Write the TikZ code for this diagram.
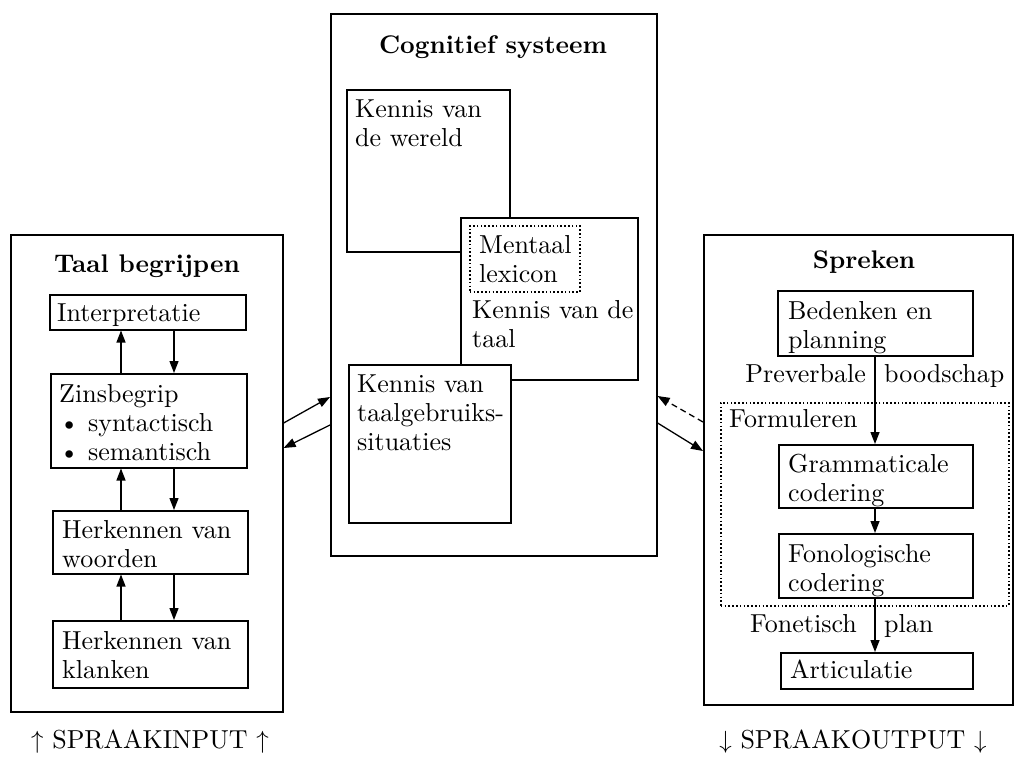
\documentclass[tikz,border=0pt]{standalone}
\usepackage{fontspec}
\setmainfont{lmroman10-regular}[Extension=.otf, BoldFont=lmroman10-bold]
\usetikzlibrary{arrows.meta,calc}
\begin{document}
\begin{tikzpicture}[x=1pt,y=-1pt,
  every node/.style={font=\fontsize{26}{29}\selectfont, inner sep=0pt},
  panel/.style={draw, line width=1.6pt, fill=white, anchor=north west},
  box/.style={draw, line width=1.5pt, fill=white, anchor=north west},
  dotbox/.style={draw, line width=1.6pt, dash pattern=on 1.6pt off 2.2pt, anchor=north west},
  ttl/.style={font=\fontsize{25.5}{29}\selectfont\bfseries, anchor=base},
  txt/.style={anchor=north west, align=left},
  lbl/.style={anchor=base west},
  arr/.style={line width=1.3pt, -{Triangle[length=12pt,width=9pt]}},
  darr/.style={arr, dash pattern=on 6pt off 4pt},
]
\useasboundingbox (0,0) rectangle (1014,756);

% ---------- left panel: Taal begrijpen ----------
\node[panel, minimum width=272, minimum height=477] (lp) at (10,234) {};
\node[ttl] (lpt) at (147,272) {Taal begrijpen};
\node[box, minimum width=196, minimum height=35] (interp) at (49,294) {};
\node[txt] (interpt) at (57,304) {Interpretatie};
\node[box, minimum width=196, minimum height=94] (zins) at (50,373) {};
\node[txt] (zinst) at (59,384) {Zinsbegrip\\\textbullet\ syntactisch\\\textbullet\ semantisch};
\node[box, minimum width=195, minimum height=63] (woord) at (52,510) {};
\node[txt] (woordt) at (62,520) {Herkennen van\\woorden};
\node[box, minimum width=195, minimum height=67] (klank) at (52,620) {};
\node[txt] (klankt) at (62,631) {Herkennen van\\klanken};
\node[anchor=base] (sin) at (150,748) {$\uparrow$\ SPRAAKINPUT\ $\uparrow$};

\coordinate (upL) at (121,0);
\coordinate (dnL) at (174,0);
\draw[arr] (zins.north -| upL) -- (interp.south -| upL);
\draw[arr] (interp.south -| dnL) -- (zins.north -| dnL);
\draw[arr] (woord.north -| upL) -- (zins.south -| upL);
\draw[arr] (zins.south -| dnL) -- (woord.north -| dnL);
\draw[arr] (klank.north -| upL) -- (woord.south -| upL);
\draw[arr] (woord.south -| dnL) -- (klank.north -| dnL);

% ---------- central panel: Cognitief systeem ----------
\node[panel, minimum width=326, minimum height=542] (cs) at (330,13) {};
\node[ttl] (cst) at (493,53) {Cognitief systeem};
\node[box, minimum width=163, minimum height=162] (wereld) at (346,89) {};
\node[txt] (wereldt) at (355,100) {Kennis van\\de wereld};
\node[box, minimum width=177, minimum height=162] (taal) at (460,217) {};
\node[dotbox, minimum width=110, minimum height=66] (lex) at (469,225) {};
\node[txt] (lext) at (479,235) {Mentaal\\lexicon};
\node[txt] (taalt) at (472,300) {Kennis van de\\taal};
\node[box, minimum width=162, minimum height=158] (situ) at (348,364) {};
\node[txt] (situt) at (357,375) {Kennis van\\taalgebruiks-\\situaties};

% ---------- right panel: Spreken ----------
\node[panel, minimum width=309, minimum height=470] (sp) at (703,234) {};
\node[ttl] (spt) at (864,268) {Spreken};
\node[box, minimum width=195, minimum height=65] (bed) at (777,290) {};
\node[txt] (bedt) at (788,301) {Bedenken en\\planning};
\node[anchor=base east] (prev) at (866,382) {Preverbale};
\node[lbl] (bood) at (884,382) {boodschap};
\node[dotbox, minimum width=288, minimum height=203] (form) at (720,402) {};
\node[lbl] (formt) at (729,427) {Formuleren};
\node[box, minimum width=194, minimum height=63] (gram) at (778,444) {};
\node[txt] (gramt) at (788,454) {Grammaticale\\codering};
\node[box, minimum width=194, minimum height=64] (fono) at (778,533) {};
\node[txt] (fonot) at (788,544) {Fonologische\\codering};
\node[anchor=base east] (fonet) at (857,632) {Fonetisch};
\node[lbl] (plan) at (884,632) {plan};
\node[box, minimum width=192, minimum height=36] (artic) at (780,652) {};
\node[lbl] (artict) at (790,678) {Articulatie};
\node[anchor=base] (sout) at (853,748) {$\downarrow$\ SPRAAKOUTPUT\ $\downarrow$};

\coordinate (vR) at (875,0);
\draw[arr] (bed.south -| vR) -- (gram.north -| vR);
\draw[arr] (gram.south -| vR) -- (fono.north -| vR);
\draw[arr] (fono.south -| vR) -- (artic.north -| vR);

% ---------- connections between panels ----------
\draw[arr] ([yshift=-189pt]lp.north east) -- ([yshift=-384pt]cs.north west);
\draw[arr] ([yshift=-412pt]cs.north west) -- ([yshift=-214pt]lp.north east);
\draw[darr] ([yshift=-188pt]sp.north west) -- ([yshift=-383pt]cs.north east);
\draw[arr] ([yshift=-410pt]cs.north east) -- ([yshift=-217pt]sp.north west);
\end{tikzpicture}
\end{document}
